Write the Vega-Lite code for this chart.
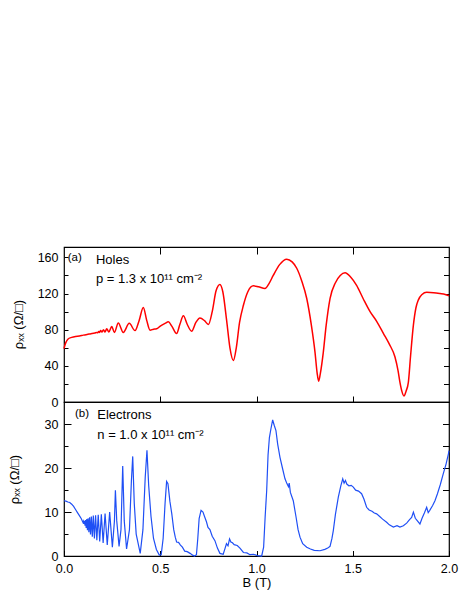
{
  "$schema": "https://vega.github.io/schema/vega-lite/v6.json",
  "padding": {"left": 7, "top": 245, "right": 5, "bottom": 5},
  "background": "white",
  "bounds": "flush",
  "config": {
    "view": {"stroke": "black", "strokeWidth": 1.2},
    "font": "Liberation Sans",
    "axis": {"grid": false, "domain": false, "labelFont": "Liberation Sans", "labelFontSize": 12.5, "labelColor": "black", "tickColor": "black", "tickWidth": 1, "titleFont": "Liberation Sans", "titleFontSize": 13, "titleFontWeight": "normal", "titleColor": "black", "labelFlush": false, "labelOverlap": false}
  },
  "datasets": {
    "holes": [
      {"B":0.0,"rho":59},{"B":0.005,"rho":63},{"B":0.01,"rho":66},{"B":0.02,"rho":69.5},{"B":0.04,"rho":71.5},{"B":0.06,"rho":72.5},{"B":0.08,"rho":73},{"B":0.10,"rho":74},{"B":0.12,"rho":74.8},{"B":0.14,"rho":75.5},{"B":0.16,"rho":76.3},{"B":0.17,"rho":77},{"B":0.175,"rho":76.5},{"B":0.18,"rho":78},{"B":0.185,"rho":77},{"B":0.19,"rho":79},{"B":0.197,"rho":77.5},{"B":0.205,"rho":80},{"B":0.213,"rho":77.5},{"B":0.222,"rho":81},{"B":0.233,"rho":77.5},{"B":0.248,"rho":83.5},{"B":0.262,"rho":77},{"B":0.282,"rho":87.5},{"B":0.308,"rho":77},{"B":0.339,"rho":87},{"B":0.369,"rho":79},{"B":0.39,"rho":90},{"B":0.412,"rho":104.5},{"B":0.43,"rho":90},{"B":0.447,"rho":79.5},{"B":0.465,"rho":80.5},{"B":0.481,"rho":81},{"B":0.50,"rho":84},{"B":0.525,"rho":87},{"B":0.542,"rho":88.7},{"B":0.56,"rho":84},{"B":0.585,"rho":75.7},{"B":0.602,"rho":86},{"B":0.620,"rho":95.3},{"B":0.64,"rho":86},{"B":0.663,"rho":78.3},{"B":0.685,"rho":88},{"B":0.706,"rho":93},{"B":0.73,"rho":90},{"B":0.750,"rho":85.7},{"B":0.77,"rho":100},{"B":0.79,"rho":123},{"B":0.810,"rho":130},{"B":0.825,"rho":122},{"B":0.845,"rho":90},{"B":0.862,"rho":60},{"B":0.880,"rho":46},{"B":0.895,"rho":60},{"B":0.912,"rho":88},{"B":0.932,"rho":107},{"B":0.955,"rho":122},{"B":0.984,"rho":128.5},{"B":1.01,"rho":127.5},{"B":1.044,"rho":125.6},{"B":1.065,"rho":131},{"B":1.087,"rho":140},{"B":1.12,"rho":152},{"B":1.157,"rho":158},{"B":1.185,"rho":155},{"B":1.209,"rho":148},{"B":1.235,"rho":134},{"B":1.261,"rho":114.5},{"B":1.285,"rho":85},{"B":1.304,"rho":55},{"B":1.315,"rho":32},{"B":1.323,"rho":23},{"B":1.332,"rho":32},{"B":1.347,"rho":55},{"B":1.362,"rho":85},{"B":1.382,"rho":114.5},{"B":1.41,"rho":132},{"B":1.435,"rho":140},{"B":1.460,"rho":143},{"B":1.49,"rho":138},{"B":1.520,"rho":129},{"B":1.555,"rho":114},{"B":1.590,"rho":100},{"B":1.625,"rho":89},{"B":1.659,"rho":76},{"B":1.69,"rho":64},{"B":1.719,"rho":50},{"B":1.735,"rho":35},{"B":1.745,"rho":22},{"B":1.755,"rho":12},{"B":1.766,"rho":6.6},{"B":1.777,"rho":12},{"B":1.789,"rho":22},{"B":1.80,"rho":50},{"B":1.815,"rho":85},{"B":1.828,"rho":104},{"B":1.841,"rho":113},{"B":1.86,"rho":119},{"B":1.884,"rho":121.5},{"B":1.92,"rho":121},{"B":1.953,"rho":120},{"B":1.98,"rho":119},{"B":2.0,"rho":117.5}
    ],
    "electrons": [
      {"B":0.0,"rho":12.6},{"B":0.01,"rho":12.5},{"B":0.02,"rho":12.3},{"B":0.03,"rho":12.2},{"B":0.04,"rho":11.8},{"B":0.05,"rho":11.3},{"B":0.06,"rho":10.6},{"B":0.07,"rho":9.9},{"B":0.08,"rho":9.2},{"B":0.09,"rho":8.5},{"B":0.0991,"rho":7.6},{"B":0.1015,"rho":7.9},{"B":0.104,"rho":7.3},{"B":0.1066,"rho":8.0},{"B":0.1093,"rho":6.9},{"B":0.1122,"rho":8.2},{"B":0.1152,"rho":6.4},{"B":0.1184,"rho":8.4},{"B":0.1218,"rho":5.9},{"B":0.1254,"rho":8.6},{"B":0.1292,"rho":5.4},{"B":0.1332,"rho":8.8},{"B":0.1376,"rho":4.9},{"B":0.1421,"rho":9.0},{"B":0.1471,"rho":4.4},{"B":0.1523,"rho":9.2},{"B":0.158,"rho":4.0},{"B":0.1641,"rho":9.3},{"B":0.1706,"rho":3.6},{"B":0.1778,"rho":9.4},{"B":0.1855,"rho":3.3},{"B":0.194,"rho":9.5},{"B":0.2033,"rho":3.0},{"B":0.2134,"rho":9.7},{"B":0.2247,"rho":2.5},{"B":0.2372,"rho":10.0},{"B":0.2513,"rho":2.0},{"B":0.262,"rho":8},{"B":0.267,"rho":15.0},{"B":0.274,"rho":8},{"B":0.286,"rho":2.2},{"B":0.296,"rho":6},{"B":0.305,"rho":20.5},{"B":0.313,"rho":8},{"B":0.325,"rho":1.6},{"B":0.34,"rho":6},{"B":0.35,"rho":17},{"B":0.357,"rho":22.7},{"B":0.365,"rho":12},{"B":0.375,"rho":5},{"B":0.396,"rho":0.6},{"B":0.41,"rho":6},{"B":0.422,"rho":18},{"B":0.431,"rho":24.1},{"B":0.44,"rho":16},{"B":0.452,"rho":9},{"B":0.465,"rho":4},{"B":0.48,"rho":1.5},{"B":0.495,"rho":0.2},{"B":0.505,"rho":0.3},{"B":0.515,"rho":4},{"B":0.525,"rho":12},{"B":0.533,"rho":17},{"B":0.54,"rho":16.5},{"B":0.55,"rho":12.5},{"B":0.56,"rho":9.6},{"B":0.57,"rho":6},{"B":0.578,"rho":4.3},{"B":0.585,"rho":3.2},{"B":0.595,"rho":3.1},{"B":0.605,"rho":2.5},{"B":0.615,"rho":2.0},{"B":0.627,"rho":1.1},{"B":0.64,"rho":1.0},{"B":0.655,"rho":0.6},{"B":0.668,"rho":0.2},{"B":0.678,"rho":0.0},{"B":0.688,"rho":0.3},{"B":0.695,"rho":4},{"B":0.702,"rho":8.5},{"B":0.712,"rho":10.4},{"B":0.722,"rho":10.0},{"B":0.73,"rho":9.0},{"B":0.74,"rho":7.8},{"B":0.748,"rho":6.5},{"B":0.758,"rho":6.0},{"B":0.77,"rho":4.5},{"B":0.784,"rho":3.5},{"B":0.797,"rho":1.8},{"B":0.81,"rho":0.6},{"B":0.827,"rho":0.4},{"B":0.837,"rho":1.8},{"B":0.844,"rho":2.8},{"B":0.852,"rho":2.3},{"B":0.86,"rho":3.9},{"B":0.867,"rho":3.2},{"B":0.875,"rho":3.0},{"B":0.884,"rho":2.6},{"B":0.9,"rho":2.4},{"B":0.914,"rho":1.8},{"B":0.932,"rho":0.8},{"B":0.95,"rho":0.7},{"B":0.966,"rho":0.3},{"B":0.985,"rho":0.4},{"B":1.005,"rho":0.1},{"B":1.027,"rho":0.0},{"B":1.037,"rho":2},{"B":1.045,"rho":9},{"B":1.053,"rho":15},{"B":1.06,"rho":23},{"B":1.067,"rho":27},{"B":1.075,"rho":29},{"B":1.084,"rho":31},{"B":1.092,"rho":29.8},{"B":1.101,"rho":28.6},{"B":1.11,"rho":25.5},{"B":1.122,"rho":22.5},{"B":1.135,"rho":20},{"B":1.148,"rho":17.6},{"B":1.158,"rho":16.5},{"B":1.166,"rho":15.8},{"B":1.17,"rho":16.6},{"B":1.176,"rho":14.5},{"B":1.191,"rho":12.6},{"B":1.205,"rho":9},{"B":1.216,"rho":6},{"B":1.226,"rho":4.3},{"B":1.24,"rho":2.8},{"B":1.261,"rho":2},{"B":1.28,"rho":1.6},{"B":1.3,"rho":1.3},{"B":1.33,"rho":1.2},{"B":1.355,"rho":1.5},{"B":1.37,"rho":1.8},{"B":1.382,"rho":2.2},{"B":1.392,"rho":4},{"B":1.399,"rho":5.8},{"B":1.41,"rho":9.5},{"B":1.425,"rho":13.4},{"B":1.438,"rho":16},{"B":1.448,"rho":17.6},{"B":1.455,"rho":16.6},{"B":1.462,"rho":17.2},{"B":1.469,"rho":16.4},{"B":1.48,"rho":16.0},{"B":1.492,"rho":16.1},{"B":1.503,"rho":15.7},{"B":1.515,"rho":15.0},{"B":1.53,"rho":14.8},{"B":1.546,"rho":14.2},{"B":1.558,"rho":13.0},{"B":1.572,"rho":11.1},{"B":1.585,"rho":10.5},{"B":1.6,"rho":10.2},{"B":1.612,"rho":9.8},{"B":1.624,"rho":9.6},{"B":1.64,"rho":9.0},{"B":1.655,"rho":8.4},{"B":1.676,"rho":7.7},{"B":1.69,"rho":7.1},{"B":1.711,"rho":6.6},{"B":1.73,"rho":6.9},{"B":1.745,"rho":6.6},{"B":1.763,"rho":6.9},{"B":1.78,"rho":7.5},{"B":1.795,"rho":8.3},{"B":1.806,"rho":8.8},{"B":1.815,"rho":10.0},{"B":1.825,"rho":8.6},{"B":1.849,"rho":7.3},{"B":1.86,"rho":8.6},{"B":1.872,"rho":9.8},{"B":1.884,"rho":11.1},{"B":1.892,"rho":9.9},{"B":1.9,"rho":10.4},{"B":1.915,"rho":11.5},{"B":1.927,"rho":12.6},{"B":1.94,"rho":14.2},{"B":1.955,"rho":16.3},{"B":1.97,"rho":18.7},{"B":1.985,"rho":21},{"B":1.997,"rho":23.3},{"B":2.0,"rho":24}
    ],
    "tagA": [{"x":0.019,"y":159,"t":"(a)"}],
    "textA": [{"x":0.166,"y":157.4,"t":"Holes"},{"x":0.166,"y":135.8,"t":"p = 1.3 x 10¹¹ cm⁻²"}],
    "tagB": [{"x":0.057,"y":32.4,"t":"(b)"}],
    "textB": [{"x":0.173,"y":32.1,"t":"Electrons"},{"x":0.173,"y":27.5,"t":"n = 1.0 x 10¹¹ cm⁻²"}]
  },
  "spacing": 0,
  "vconcat": [
    {
      "width": 385,
      "height": 155,
      "resolve": {"axis": {"x": "independent", "y": "independent"}},
      "layer": [
        {
          "data": {"name": "holes"},
          "mark": {"type": "line", "color": "#ff0000", "strokeWidth": 1.5, "interpolate": "monotone"},
          "encoding": {
            "x": {"field": "B", "type": "quantitative", "scale": {"domain": [0, 2], "nice": false, "zero": false},
                  "axis": {"orient": "bottom", "values": [0.5, 1, 1.5], "labels": false, "tickSize": -6, "title": null}},
            "y": {"field": "rho", "type": "quantitative", "scale": {"domain": [0, 171.5], "nice": false},
                  "axis": {"orient": "left", "values": [0, 20, 40, 60, 80, 100, 120, 140, 160], "labelExpr": "datum.value % 40 === 0 ? datum.label : ''", "tickSize": -4, "labelPadding": 10, "title": "ρₓₓ (Ω/□)", "titleX": -46, "titleY": 77, "titleAngle": -90, "titleBaseline": "middle", "titleAlign": "center"}}
          }
        },
        {
          "data": {"name": "textA"},
          "mark": {"type": "text", "align": "left", "baseline": "middle", "fontSize": 13, "font": "Liberation Sans", "color": "black"},
          "encoding": {
            "x": {"field": "x", "type": "quantitative", "scale": {"domain": [0, 2], "nice": false, "zero": false},
                  "axis": {"orient": "top", "values": [0.5, 1, 1.5], "labels": false, "tickSize": -7, "title": null}},
            "y": {"field": "y", "type": "quantitative", "scale": {"domain": [0, 171.5], "nice": false},
                  "axis": {"orient": "right", "values": [0, 20, 40, 60, 80, 100, 120, 140, 160], "labels": false, "tickSize": -5.5, "title": null}},
            "text": {"field": "t"}
          }
        },
        {
          "data": {"name": "tagA"},
          "mark": {"type": "text", "align": "left", "baseline": "middle", "fontSize": 11.5, "font": "Liberation Sans", "color": "black"},
          "encoding": {
            "x": {"field": "x", "type": "quantitative", "scale": {"domain": [0, 2], "nice": false, "zero": false}, "axis": null},
            "y": {"field": "y", "type": "quantitative", "scale": {"domain": [0, 171.5], "nice": false}, "axis": null},
            "text": {"field": "t"}
          }
        }
      ]
    },
    {
      "width": 385,
      "height": 154,
      "resolve": {"axis": {"x": "independent", "y": "independent"}},
      "layer": [
        {
          "data": {"name": "electrons"},
          "mark": {"type": "line", "color": "#1f4ff5", "strokeWidth": 1.2},
          "encoding": {
            "x": {"field": "B", "type": "quantitative", "scale": {"domain": [0, 2], "nice": false, "zero": false},
                  "axis": {"orient": "bottom", "values": [0, 0.5, 1, 1.5, 2], "format": ".1f", "tickSize": -5.5, "labelPadding": 12, "title": "B (T)", "titlePadding": 1}},
            "y": {"field": "rho", "type": "quantitative", "scale": {"domain": [0, 35.1], "nice": false},
                  "axis": {"orient": "left", "values": [0, 5, 10, 15, 20, 25, 30], "labelExpr": "datum.value % 10 === 0 ? datum.label : ''", "tickSize": {"condition": {"test": "datum.value % 10 === 0", "value": -7}, "value": -4}, "labelPadding": 13, "title": "ρₓₓ (Ω/□)", "titleX": -50, "titleY": 77, "titleAngle": -90, "titleBaseline": "middle", "titleAlign": "center"}}
          }
        },
        {
          "data": {"name": "textB"},
          "mark": {"type": "text", "align": "left", "baseline": "middle", "fontSize": 13, "font": "Liberation Sans", "color": "black"},
          "encoding": {
            "x": {"field": "x", "type": "quantitative", "scale": {"domain": [0, 2], "nice": false, "zero": false}, "axis": null},
            "y": {"field": "y", "type": "quantitative", "scale": {"domain": [0, 35.1], "nice": false},
                  "axis": {"orient": "right", "values": [0, 5, 10, 15, 20, 25, 30], "labels": false, "tickSize": -6.5, "title": null}},
            "text": {"field": "t"}
          }
        },
        {
          "data": {"name": "tagB"},
          "mark": {"type": "text", "align": "left", "baseline": "middle", "fontSize": 11.5, "font": "Liberation Sans", "color": "black"},
          "encoding": {
            "x": {"field": "x", "type": "quantitative", "scale": {"domain": [0, 2], "nice": false, "zero": false}, "axis": null},
            "y": {"field": "y", "type": "quantitative", "scale": {"domain": [0, 35.1], "nice": false}, "axis": null},
            "text": {"field": "t"}
          }
        }
      ]
    }
  ]
}
